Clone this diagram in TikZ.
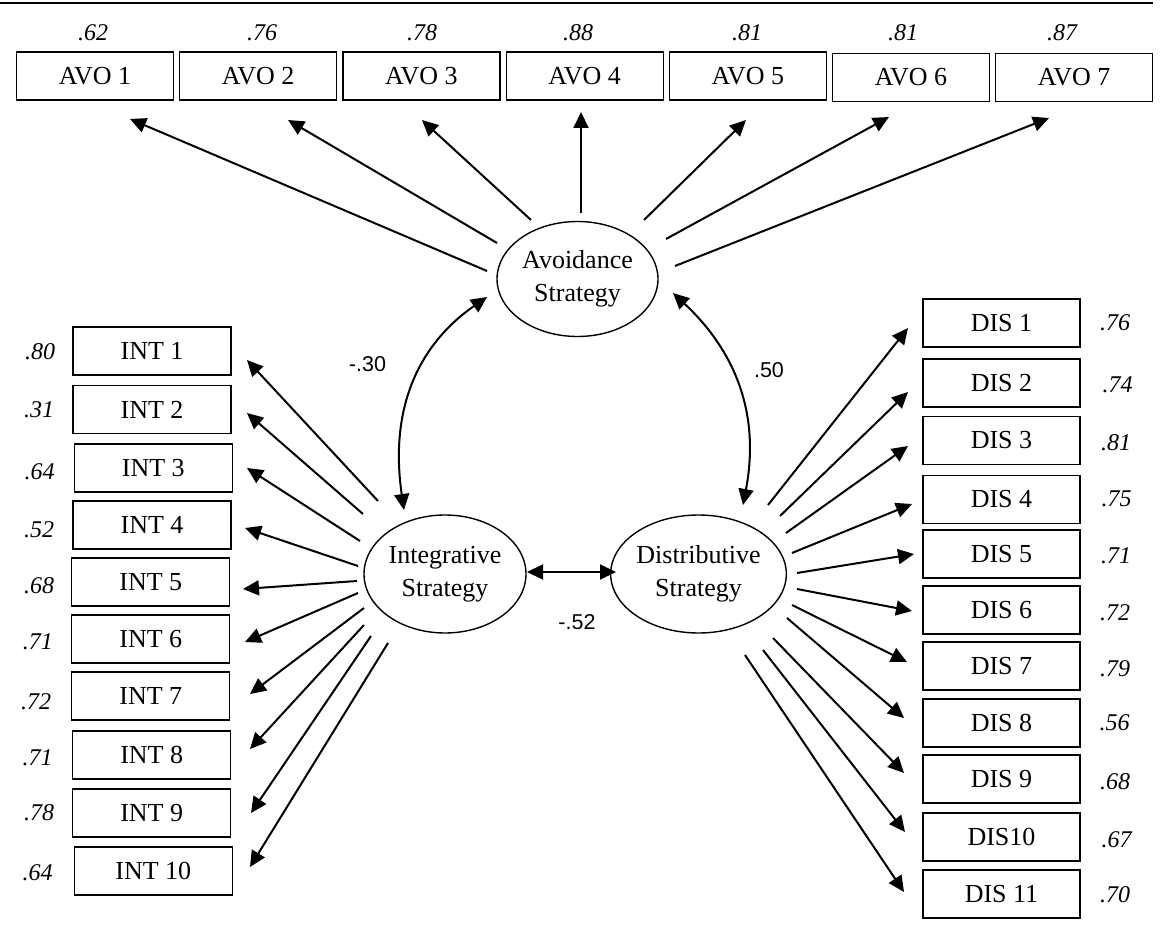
\documentclass[tikz,border=0pt]{standalone}
\usepackage{fontspec}
\setmainfont{Liberation Serif}
\newfontfamily\corrfont{Liberation Sans}
\usetikzlibrary{arrows.meta,shapes.geometric}

\tikzset{
  item/.style={draw, line width=1.2pt, fill=white, minimum width=157pt,
    minimum height=48pt, inner sep=0pt, font=\fontsize{26}{30}\selectfont},
  factor/.style={ellipse, draw, line width=1.4pt, inner sep=0pt, align=center,
    font=\fontsize{26}{33}\selectfont},
  loading/.style={inner sep=0pt, font=\fontsize{24}{28}\selectfont\itshape},
  corr/.style={inner sep=0pt, font=\fontsize{21.5}{26}\corrfont},
  arr/.style={line width=2pt, -{Triangle[length=16pt,width=15pt]}},
  dbl/.style={line width=2pt,
    {Triangle[length=16pt,width=15pt]}-{Triangle[length=16pt,width=15pt]}},
}

\begin{document}
\begin{tikzpicture}[x=1pt, y=-1pt]
  \useasboundingbox (0,0) rectangle (1160,931);

  % rule across the top
  \draw[line width=1.3pt] (0,3) -- (1153,3);

  % latent factors
  \node[factor, minimum width=161pt, minimum height=115pt] (avo) at (577.5,279) {Avoidance\\Strategy};
  \node[factor, minimum width=162pt, minimum height=118pt] (int) at (445,574) {Integrative\\Strategy};
  \node[factor, minimum width=163pt, minimum height=118pt] (dis) at (698.5,574) {Distributive\\Strategy};

  % avoidance indicators
  \foreach \i/\x/\y in {1/95/76, 2/258.2/76, 3/421.4/76, 4/584.6/76,
                        5/747.8/76, 6/911/77.5, 7/1074.2/77.5}
    \node[item] (avo\i) at (\x,\y) {AVO \i};
  \foreach \i/\x/\v in {1/93/.62, 2/262/.76, 3/422/.78, 4/578/.88,
                        5/747/.81, 6/903/.81, 7/1062/.87}
    \node[loading] (avoL\i) at (\x,33) {\v};

  % integrative indicators
  \foreach \i/\x/\y in {1/152/351, 2/152/409.5, 3/153.3/468, 4/152/525,
                        5/150.8/582, 6/150.8/639, 7/150.8/696, 8/151.7/755,
                        9/151.7/813, 10/153.3/871}
    \node[item, minimum width=158pt] (int\i) at (\x,\y) {INT \i};
  \foreach \i/\x/\y/\v in {1/40/352/.80, 2/39/410/.31, 3/39.5/472/.64,
                           4/39/530/.52, 5/39/586/.68, 6/38/642/.71,
                           7/36/702/.72, 8/37.7/758/.71, 9/39/813/.78,
                           10/37.7/873/.64}
    \node[loading] (intL\i) at (\x,\y) {\v};

  % distributive indicators
  \foreach \i/\y/\t in {1/323/DIS 1, 2/383/DIS 2, 3/440.5/DIS 3, 4/499.5/DIS 4,
                        5/554/DIS 5, 6/610/DIS 6, 7/666/DIS 7, 8/723/DIS 8,
                        9/779/DIS 9, 10/837/DIS10, 11/894/DIS 11}
    \node[item] (dis\i) at (1001.5,\y) {\t};
  \foreach \i/\x/\y/\v in {1/1115/323/.76, 2/1117.5/385/.74, 3/1116/443/.81,
                           4/1116.5/499/.75, 5/1116/556/.71, 6/1115/613/.72,
                           7/1115/669/.79, 8/1114.7/723/.56, 9/1115/782/.68,
                           10/1116.7/840/.67, 11/1115/895/.70}
    \node[loading] (disL\i) at (\x,\y) {\v};

  % factor loadings
  \foreach \i/\ax/\ay/\bx/\by in {1/-90.5/-8/35/43, 2/-80.5/-36/29.8/44,
      3/-46.5/-59/0.6/44, 4/3.5/-66/-3.6/36, 5/66.5/-59/-1.8/44,
      6/88.5/-40/-22/39.5, 7/97.5/-13/-25.2/40.5}
    \draw[arr] ([shift={(\ax,\ay)}]avo.center) -- ([shift={(\bx,\by)}]avo\i.center);

  \foreach \i/\ax/\ay/\bx/\by in {1/-67/-73/95/9, 2/-82/-60/95/3.5,
      3/-85/-33/93.7/0, 4/-87/-8/93/3, 5/-88/7/92.2/7, 6/-87/19/94.2/3,
      7/-81/34/99.2/-2, 8/-81/51/98.3/-6, 9/-74/62/99.3/0, 10/-57/69/96.7/-4}
    \draw[arr] ([shift={(\ax,\ay)}]int.center) -- ([shift={(\bx,\by)}]int\i.center);

  \foreach \i/\ax/\ay/\bx/\by in {1/69.5/-69/-93.5/5, 2/81.5/-58/-93.5/9,
      3/87.5/-41/-93.5/5.5, 4/93.5/-21/-89.5/4.5, 5/98.5/-1/-87.5/0,
      6/98.5/15/-89.5/1, 7/93.5/31/-94.5/-4, 8/88.5/44/-97.5/-5,
      9/74.5/64/-97.5/-6, 10/64.5/76/-96.5/-5, 11/46.5/81/-97.5/-2}
    \draw[arr] ([shift={(\ax,\ay)}]dis.center) -- ([shift={(\bx,\by)}]dis\i.center);

  % factor correlations
  \draw[dbl] ([shift={(-41,-64)}]int.center) .. controls (388,400) and (425,340)
    .. ([shift={(-90.5,18)}]avo.center);
  \draw[dbl] ([shift={(44.5,-69)}]dis.center) .. controls (764,395) and (718,335)
    .. ([shift={(95.5,14)}]avo.center);
  \draw[dbl] ([shift={(82,-2)}]int.center) -- ([shift={(-82.5,-2)}]dis.center);

  \node[corr] (rIA) at (367.5,364) {-.30};
  \node[corr] (rDA) at (769,370) {.50};
  \node[corr] (rID) at (577,622) {-.52};
\end{tikzpicture}
\end{document}
